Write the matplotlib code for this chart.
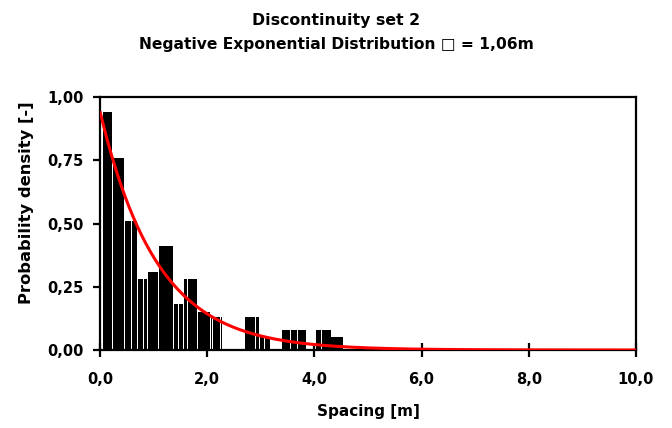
import numpy as np
import matplotlib
matplotlib.use("Agg")
import matplotlib.pyplot as plt

plt.rcParams['font.family'] = ['DejaVu Sans']
plt.rcParams['font.weight'] = 'bold'

# Histogram of measured spacings (bin edges in m, relative frequency density)
bin_left = [0.04, 0.24, 0.45, 0.59, 0.70, 0.82, 0.88, 1.10, 1.37, 1.46,
            1.55, 1.64, 1.82, 2.06, 2.10, 2.24, 2.69, 2.91, 2.97, 3.07,
            3.39, 3.55, 3.68, 4.03, 4.14, 4.31]
bin_right = [0.24, 0.45, 0.59, 0.70, 0.82, 0.88, 1.10, 1.37, 1.46, 1.55,
             1.64, 1.82, 2.06, 2.10, 2.24, 2.28, 2.91, 2.97, 3.07, 3.19,
             3.55, 3.68, 3.86, 4.14, 4.31, 4.55]
density = [0.94, 0.76, 0.51, 0.51, 0.28, 0.28, 0.31, 0.41, 0.18, 0.18,
           0.28, 0.28, 0.15, 0.13, 0.13, 0.13, 0.13, 0.13, 0.05, 0.05,
           0.08, 0.08, 0.08, 0.08, 0.08, 0.05]

# Fitted negative exponential distribution, mean spacing
mean_spacing = 1.06

x_ticks = [0, 2, 4, 6, 8, 10]
x_tick_labels = ["0,0", "2,0", "4,0", "6,0", "8,0", "10,0"]
y_ticks = [0, 0.25, 0.5, 0.75, 1.0]
y_tick_labels = ["0,00", "0,25", "0,50", "0,75", "1,00"]

fig = plt.figure(figsize=(6.72, 4.28), dpi=100)
ax = fig.add_axes([0.1488, 0.1822, 0.7976, 0.5912])

left = np.array(bin_left)
width = np.array(bin_right) - left
gap = 0.018
ax.bar(left + gap / 2, density, width=width - gap, align='edge',
       color='black', edgecolor='none', zorder=2)

xs = np.linspace(0, 10, 500)
pdf = (1.0 / mean_spacing) * np.exp(-xs / mean_spacing)
ax.plot(xs, pdf, color='#ff0000', lw=2.2, zorder=3, solid_capstyle='butt')

ax.set_xlim(0, 10)
ax.set_ylim(0, 1.0)
ax.set_xticks(x_ticks)
ax.set_xticklabels(x_tick_labels)
ax.set_yticks(y_ticks)
ax.set_yticklabels(y_tick_labels)

for s in ax.spines.values():
    s.set_linewidth(1.6)
    s.set_color('black')
ax.tick_params(axis='x', direction='inout', length=10, width=1.6,
               labelsize=10.5, pad=11)
ax.tick_params(axis='y', direction='out', length=5, width=1.6,
               labelsize=10.5, pad=7)
for lab in ax.get_xticklabels() + ax.get_yticklabels():
    lab.set_fontweight('bold')

ax.set_xlabel("Spacing [m]", fontsize=11, fontweight='bold', labelpad=12)

fig.text(0.040, 0.527, "Probability density [-]", rotation=90,
         ha='center', va='center', fontsize=11.8, fontweight='bold')

fig.text(0.5, 0.953, "Discontinuity set 2", ha='center', va='center',
         fontsize=11.3, fontweight='bold')
fig.text(0.5, 0.895, "Negative Exponential Distribution \u25a1 = 1,06m",
         ha='center', va='center', fontsize=11.2, fontweight='bold')

fig.savefig("out.png", dpi=100)
